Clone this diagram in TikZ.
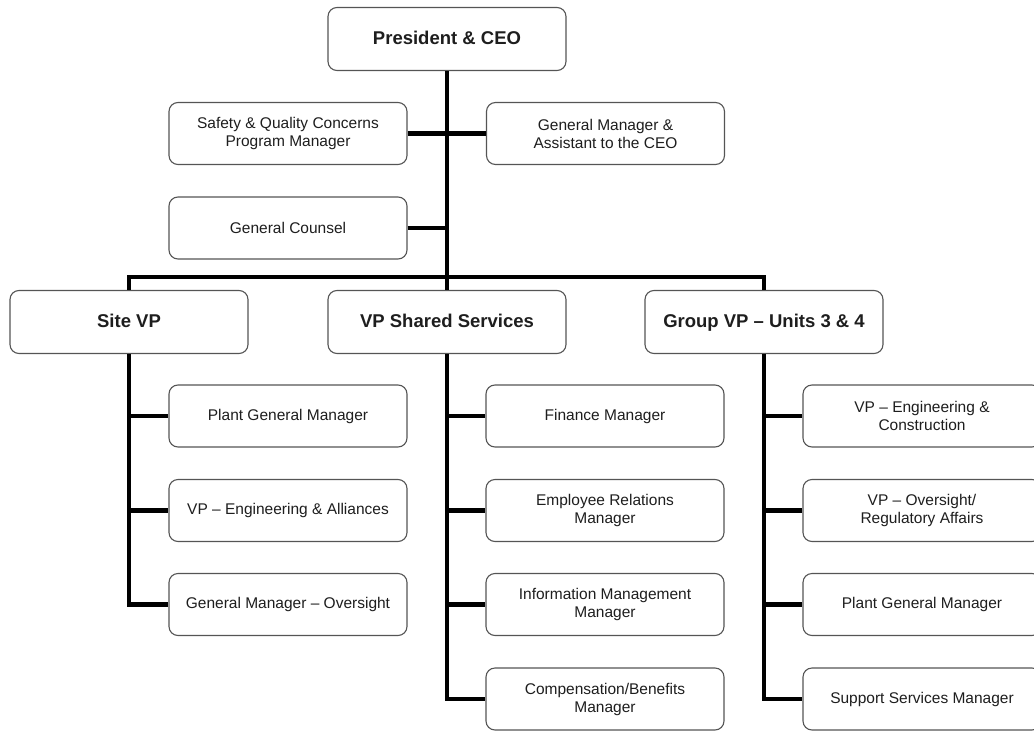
\documentclass[tikz,border=0pt]{standalone}
\usepackage{fontspec}
\setmainfont{Liberation Sans}
\usetikzlibrary{calc}
\definecolor{boxline}{RGB}{85,85,85}
\definecolor{boxtext}{RGB}{30,30,30}
\tikzstyle{headbox}=[draw=boxline,line width=1.1pt,rounded corners=9pt,fill=white,minimum width=238,minimum height=63,text height=13.5pt,text depth=3.5pt,text=boxtext,font=\fontsize{18.5}{22}\selectfont\bfseries]
\tikzstyle{staffbox}=[draw=boxline,line width=1.1pt,rounded corners=9pt,fill=white,minimum width=238,minimum height=62,align=center,text=boxtext,font=\fontsize{15.5}{18}\selectfont]
\tikzstyle{reportline}=[line width=4.5pt,black]
\newcommand{\stub}[2]{
  \draw[reportline] (#1.south |- #2.west) -- (#2.west);
}

\begin{document}
\begin{tikzpicture}[x=1pt,y=-1pt]
  \useasboundingbox (0,0) rectangle (1034,731);
  % top of the chart
  \node[headbox] (ceo) at (447,39) {President \& CEO};
  \node[staffbox] (safety) at (288,133.5) {Safety \& Quality Concerns\\Program Manager};
  \node[staffbox] (gmasst) at (605.5,133.5) {General Manager \&\\Assistant to the CEO};
  \node[staffbox] (counsel) at (288,228) {General Counsel};
  % second level
  \node[headbox] (sitevp) at (129,322) {Site VP};
  \node[headbox] (vpss) at (447,322) {VP Shared Services};
  \node[headbox] (groupvp) at (764,322) {Group VP -- Units 3 \& 4};
  % reports
  \foreach \name/\y/\txt in {site1/416/{Plant General Manager},
                             site2/510.5/{VP -- Engineering \& Alliances},
                             site3/604.5/{General Manager -- Oversight}}
    \node[staffbox] (\name) at (288,\y) {\txt};
  \foreach \name/\y/\txt in {ss1/416/{Finance Manager},
                             ss2/510.5/{Employee Relations\\Manager},
                             ss3/604.5/{Information Management\\Manager},
                             ss4/699/{Compensation/Benefits\\Manager}}
    \node[staffbox] (\name) at (605,\y) {\txt};
  \foreach \name/\y/\txt in {grp1/416/{VP -- Engineering \&\\Construction},
                             grp2/510.5/{VP -- Oversight/\\Regulatory Affairs},
                             grp3/604.5/{Plant General Manager},
                             grp4/699/{Support Services Manager}}
    \node[staffbox] (\name) at (922,\y) {\txt};

  \coordinate (bus) at (447,277);
  \draw[reportline] (ceo.south) -- (vpss.north);
  \draw[reportline] (safety.east) -- (gmasst.west);
  \draw[reportline] (counsel.east) -- (counsel.east -| ceo.south);
  \draw[reportline] (sitevp.north) -- (sitevp.north |- bus) -- (groupvp.north |- bus) -- (groupvp.north);
  % branches
  \draw[reportline] (sitevp.south) |- (site3.west);
  \stub{sitevp}{site1}
  \stub{sitevp}{site2}
  \draw[reportline] (vpss.south) |- (ss4.west);
  \foreach \k in {1,2,3} {\stub{vpss}{ss\k}}
  \draw[reportline] (groupvp.south) |- (grp4.west);
  \foreach \k in {1,2,3} {\stub{groupvp}{grp\k}}
\end{tikzpicture}
\end{document}
